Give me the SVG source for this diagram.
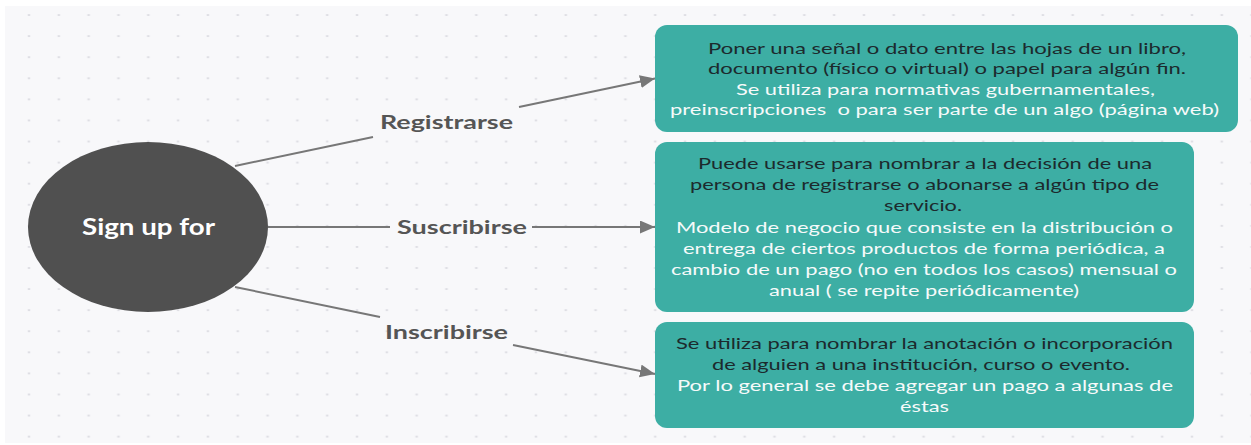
<svg xmlns="http://www.w3.org/2000/svg" width="1251" height="445" viewBox="0 0 1251 445">
  <style>
    .box { fill: #3daea4; }
    .t { font-family: Lato, "Open Sans", "Liberation Sans", sans-serif; font-size: 15px; white-space: pre; }
    .dk { fill: #1c2a2d; }
    .wt { fill: #f6fafa; }
    .lbl { font-family: Lato, "Open Sans", "Liberation Sans", sans-serif; font-size: 19.5px; font-weight: 700; fill: #555555; }
    .conn { stroke: #777777; stroke-width: 2; fill: none; }
  </style>
  <defs>
    <pattern id="dots" patternUnits="userSpaceOnUse" x="14.1" y="4.5" width="29.82" height="21.08">
      <ellipse cx="14.9" cy="10.5" rx="1.5" ry="1" fill="#dcdce2"/>
    </pattern>
    <marker id="arr" markerUnits="userSpaceOnUse" markerWidth="16" markerHeight="14" refX="15" refY="6.5" orient="auto">
      <path d="M0,0 L15,6.5 L0,13 Z" fill="#777777"/>
    </marker>
  </defs>
  <rect x="0" y="0" width="1251" height="445" fill="#ffffff"/>
  <rect x="5" y="6" width="1246" height="437" fill="#f8f8fa"/>
  <rect x="5" y="6" width="1246" height="437" fill="url(#dots)"/>

  <g id="connectors">
    <line class="conn" x1="235" y1="166" x2="373" y2="137"/>
    <line class="conn" x1="519" y1="107" x2="655" y2="78.5" marker-end="url(#arr)"/>
    <line class="conn" x1="268" y1="227" x2="390" y2="227"/>
    <line class="conn" x1="532" y1="227" x2="655" y2="227" marker-end="url(#arr)"/>
    <line class="conn" x1="235" y1="287" x2="380" y2="317"/>
    <line class="conn" x1="513" y1="345" x2="655" y2="374" marker-end="url(#arr)"/>
    <text class="lbl" x="380" y="129" textLength="133" lengthAdjust="spacingAndGlyphs">Registrarse</text>
    <text class="lbl" x="397" y="234" textLength="130" lengthAdjust="spacingAndGlyphs">Suscribirse</text>
    <text class="lbl" x="385" y="339" textLength="123" lengthAdjust="spacingAndGlyphs">Inscribirse</text>
  </g>

  <g id="sign-up-for">
    <ellipse cx="148" cy="227" rx="120" ry="85" fill="#505050"/>
    <text x="82" y="235" font-family="Lato, 'Open Sans', 'Liberation Sans', sans-serif" font-size="22" font-weight="700" fill="#ffffff" textLength="133" lengthAdjust="spacingAndGlyphs">Sign up for</text>
  </g>

  <g id="registrarse-box">
    <rect class="box" x="655" y="25" width="583" height="107" rx="12"/>
    <text class="t dk" x="708" y="54" textLength="478" lengthAdjust="spacingAndGlyphs">Poner una señal o dato entre las hojas de un libro,</text>
    <text class="t dk" x="708" y="74.3" textLength="478" lengthAdjust="spacingAndGlyphs">documento (físico o virtual) o papel para algún fin.</text>
    <text class="t wt" x="736" y="94.6" textLength="419" lengthAdjust="spacingAndGlyphs">Se utiliza para normativas gubernamentales,</text>
    <text class="t wt" x="670" y="115" textLength="549" lengthAdjust="spacingAndGlyphs">preinscripciones  o para ser parte de un algo (página web)</text>
  </g>

  <g id="suscribirse-box">
    <rect class="box" x="655" y="142" width="539" height="170" rx="12"/>
    <text class="t dk" x="698" y="169" textLength="454" lengthAdjust="spacingAndGlyphs">Puede usarse para nombrar a la decisión de una</text>
    <text class="t dk" x="690" y="190.2" textLength="469" lengthAdjust="spacingAndGlyphs">persona de registrarse o abonarse a algún tipo de</text>
    <text class="t dk" x="884" y="211.4" textLength="78" lengthAdjust="spacingAndGlyphs">servicio.</text>
    <text class="t wt" x="676" y="232.6" textLength="497" lengthAdjust="spacingAndGlyphs">Modelo de negocio que consiste en la distribución o</text>
    <text class="t wt" x="683" y="253.8" textLength="482" lengthAdjust="spacingAndGlyphs">entrega de ciertos productos de forma periódica, a</text>
    <text class="t wt" x="671" y="275" textLength="506" lengthAdjust="spacingAndGlyphs">cambio de un pago (no en todos los casos) mensual o</text>
    <text class="t wt" x="769" y="296.2" textLength="310" lengthAdjust="spacingAndGlyphs">anual ( se repite periódicamente)</text>
  </g>

  <g id="inscribirse-box">
    <rect class="box" x="655" y="322" width="539" height="106" rx="12"/>
    <text class="t dk" x="676" y="349" textLength="497" lengthAdjust="spacingAndGlyphs">Se utiliza para nombrar la anotación o incorporación</text>
    <text class="t dk" x="712" y="370" textLength="418" lengthAdjust="spacingAndGlyphs">de alguien a una institución, curso o evento.</text>
    <text class="t wt" x="677" y="391" textLength="496" lengthAdjust="spacingAndGlyphs">Por lo general se debe agregar un pago a algunas de</text>
    <text class="t wt" x="900" y="412" textLength="49" lengthAdjust="spacingAndGlyphs">éstas</text>
  </g>
</svg>
